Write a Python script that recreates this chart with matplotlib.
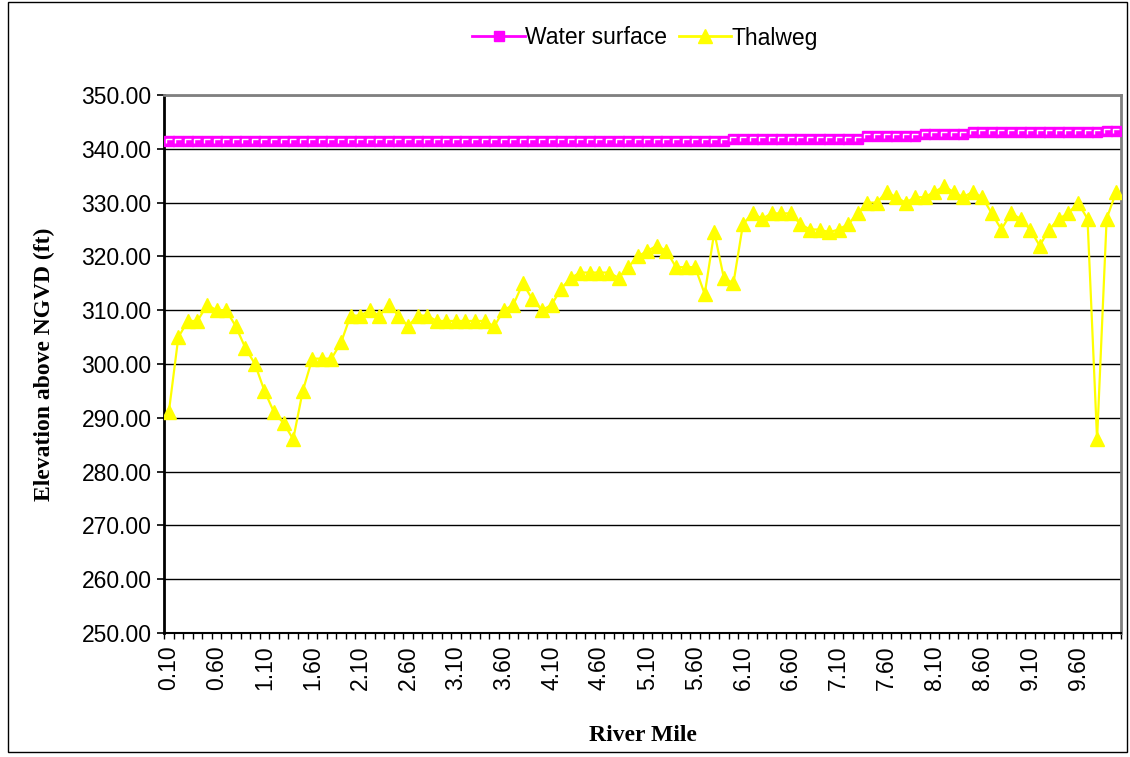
import numpy as np
from matplotlib import pyplot as plt
from matplotlib.patches import Rectangle
from matplotlib.path import Path

plt.rcParams['font.family'] = ['Liberation Sans', 'DejaVu Sans']

river_mile = [f'{(i + 1) / 10:.2f}' for i in range(100)]

water_surface = ([341.5] * 59 + [341.9] * 14 + [342.3] * 6 + [342.7] * 5
                 + [343.1] * 14 + [343.3] * 2)

thalweg = [291, 305, 308, 308, 311, 310, 310, 307, 303, 300,
           295, 291, 289, 286, 295, 301, 301, 301, 304, 309,
           309, 310, 309, 311, 309, 307, 309, 309, 308, 308,
           308, 308, 308, 308, 307, 310, 311, 315, 312, 310,
           311, 314, 316, 317, 317, 317, 317, 316, 318, 320,
           321, 322, 321, 318, 318, 318, 313, 324.5, 316, 315,
           326, 328, 327, 328, 328, 328, 326, 325, 325, 324.5,
           325, 326, 328, 330, 330, 332, 331, 330, 331, 331,
           332, 333, 332, 331, 332, 331, 328, 325, 328, 327,
           325, 322, 325, 327, 328, 330, 327, 286, 327, 332]

x = np.arange(len(river_mile))

# white corner mark inside the magenta square marker
corner = Path([(-0.6, -0.5), (-0.6, 0.5), (0.6, 0.5)],
              [Path.MOVETO, Path.LINETO, Path.LINETO])

fig = plt.figure(figsize=(11.3, 7.57), dpi=100)
ax = fig.add_axes([164 / 1130, 1 - 633 / 757, 957 / 1130, 538 / 757])

# outer chart border
fig.patches.append(Rectangle((8 / 1130, 1 - 752 / 757), 1119 / 1130, 750 / 757,
                             transform=fig.transFigure, fill=False,
                             edgecolor='black', linewidth=1))

ax.plot(x, water_surface, color='#FF00FF', linewidth=2, marker='s',
        markersize=6.5, markerfacecolor='#FF00FF', markeredgecolor='#FF00FF',
        zorder=3)
ax.plot(x, water_surface, linestyle='none', marker=corner, markersize=4,
        markerfacecolor='none', markeredgecolor='white', markeredgewidth=1,
        zorder=3.5)
ax.plot(x, thalweg, color='#FFFF00', linewidth=1.6, marker='^',
        markersize=10, markerfacecolor='#FFFF00', markeredgecolor='#FFFF00',
        zorder=4)

# legend proxies
ws_handle, = ax.plot([], [], color='#FF00FF', linewidth=2, marker='s',
                     markersize=6.5, markerfacecolor='#FF00FF',
                     markeredgecolor='#FF00FF')
tw_handle, = ax.plot([], [], color='#FFFF00', linewidth=2, marker='^',
                     markersize=10, markerfacecolor='#FFFF00',
                     markeredgecolor='#FFFF00')

ax.set_xlim(-0.5, len(x) - 0.5)
ax.set_ylim(250, 350)
ax.set_yticks(np.arange(250, 351, 10))
ax.set_yticklabels([f'{v:.2f}' for v in np.arange(250, 351, 10)], fontsize=16.5)
ax.yaxis.grid(True, color='black', linewidth=1)
ax.set_axisbelow(True)

ax.set_xticks(x[::5])
ax.set_xticklabels(river_mile[::5], rotation=90, fontsize=16.5)
ax.set_xticks(np.arange(-0.5, len(x), 1), minor=True)
ax.tick_params(axis='x', which='major', length=0, pad=9)
ax.tick_params(axis='x', which='minor', length=4, width=1)
ax.tick_params(axis='y', length=5, width=1.2, pad=4)

for side in ['top', 'right']:
    ax.spines[side].set_color('#808080')
    ax.spines[side].set_linewidth(2)
ax.spines['left'].set_linewidth(2)
ax.spines['bottom'].set_linewidth(1.5)

ax.set_ylabel('Elevation above NGVD (ft)', fontsize=17, fontweight='bold',
              family='Liberation Serif', labelpad=19)
ax.set_xlabel('River Mile', fontsize=17, fontweight='bold',
              family='Liberation Serif', labelpad=25)

fig.legend([ws_handle, tw_handle], ['Water surface', 'Thalweg'], loc='center',
           bbox_to_anchor=(645 / 1130, 1 - 38 / 757), ncol=2, frameon=False,
           fontsize=16.5, handlelength=2.3, handletextpad=0, columnspacing=0.5)

plt.savefig('out.png', dpi=100)
